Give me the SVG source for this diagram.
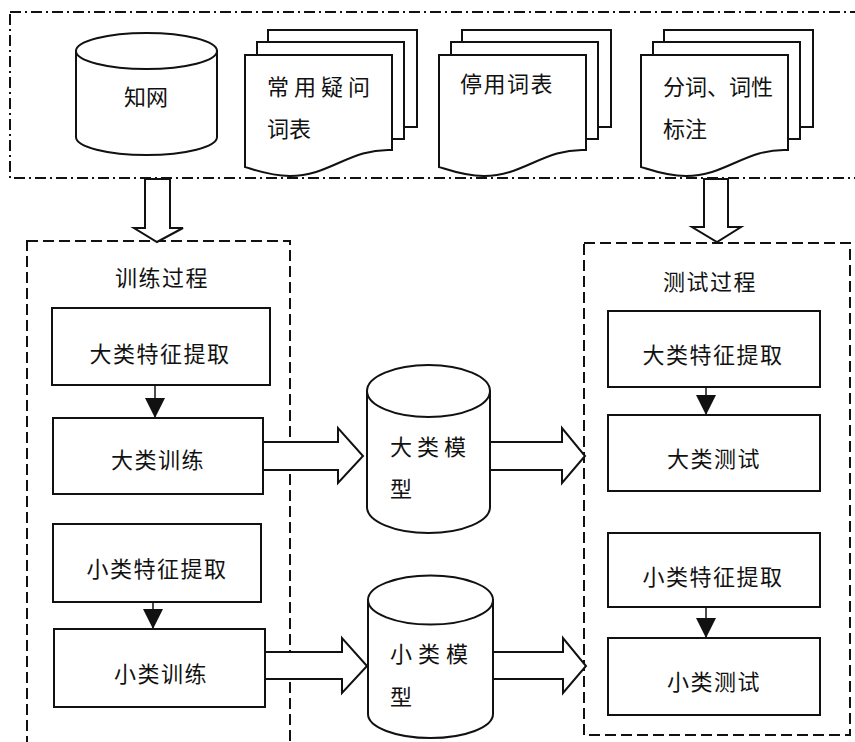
<svg xmlns="http://www.w3.org/2000/svg" xmlns:xlink="http://www.w3.org/1999/xlink" width="855" height="742" viewBox="0 0 855 742">
<style>
.t{font-family:"Noto Sans CJK SC","Noto Sans",sans-serif;font-size:22px;fill:#111;dominant-baseline:central}
.c{text-anchor:middle}
.box{fill:#fff;stroke:#111;stroke-width:2}
.shape{fill:#fff;stroke:#111;stroke-width:2}
.dash{fill:none;stroke:#111;stroke-width:2;stroke-dasharray:11 5}
.dashdot{fill:none;stroke:#111;stroke-width:2;stroke-dasharray:11 4 2 4}
.barrow{fill:#fff;stroke:#111;stroke-width:2;stroke-linejoin:miter}
.line{stroke:#111;stroke-width:1.5;fill:none}
</style>
<defs>
<marker id="tri" markerUnits="userSpaceOnUse" markerWidth="20" markerHeight="20" viewBox="0 0 20 20" refX="20" refY="10" orient="auto">
<path d="M0,0 L20,10 L0,20 Z" fill="#111"/>
</marker>
<g id="stack">
<rect class="shape" x="23" y="-25" width="149" height="97"/>
<rect class="shape" x="12" y="-13" width="147" height="97"/>
<path class="shape" d="M0,0 H147 V95 C105,93 85,121 45,121 C25,121 10,115 0,112 Z"/>
</g>
</defs>
<rect width="855" height="742" fill="#fff"/>

<g id="sources">
<rect class="dashdot" x="10" y="12" width="880" height="166"/>
</g>

<g id="zhiwang">
<path class="shape" d="M76,51 V137 A70.5,18 0 0 0 217,137 V51 Z"/>
<ellipse class="shape" cx="146.5" cy="51" rx="70.5" ry="18"/>
<text class="t c" x="146" y="95">知网</text>
</g>

<g id="doc-question">
<use xlink:href="#stack" href="#stack" x="245" y="55"/>
<text class="t" x="267" y="85" letter-spacing="5">常用疑问</text>
<text class="t" x="267" y="127">词表</text>
</g>

<g id="doc-stopwords">
<use xlink:href="#stack" href="#stack" x="439" y="55"/>
<text class="t" x="460" y="82" letter-spacing="1.5">停用词表</text>
</g>

<g id="doc-segment">
<use xlink:href="#stack" href="#stack" x="641" y="55"/>
<text class="t" x="663" y="85">分词、词性</text>
<text class="t" x="663" y="127">标注</text>
</g>

<g id="training">
<rect class="dash" x="27" y="241" width="263" height="510"/>
<text class="t c" x="162" y="276" letter-spacing="1.5">训练过程</text>
</g>

<g id="testing">
<rect class="dash" x="584" y="243" width="266" height="492"/>
<text class="t c" x="710" y="280" letter-spacing="1.5">测试过程</text>
</g>

<g id="train-big-feat">
<rect class="box" x="52" y="308" width="218" height="77"/>
<text class="t c" x="160" y="352" letter-spacing="1.5">大类特征提取</text>
</g>
<g id="train-big">
<rect class="box" x="53" y="418" width="210" height="76"/>
<text class="t c" x="158" y="458" letter-spacing="1.5">大类训练</text>
</g>
<g id="train-small-feat">
<rect class="box" x="53" y="524" width="208" height="78"/>
<text class="t c" x="157" y="567" letter-spacing="1.5">小类特征提取</text>
</g>
<g id="train-small">
<rect class="box" x="54" y="629" width="211" height="78"/>
<text class="t c" x="161" y="672" letter-spacing="1.5">小类训练</text>
</g>

<g id="test-big-feat">
<rect class="box" x="608" y="311" width="212" height="76"/>
<text class="t c" x="713" y="353" letter-spacing="1.5">大类特征提取</text>
</g>
<g id="test-big">
<rect class="box" x="608" y="415" width="212" height="76"/>
<text class="t c" x="714" y="457" letter-spacing="1.5">大类测试</text>
</g>
<g id="test-small-feat">
<rect class="box" x="608" y="533" width="212" height="74"/>
<text class="t c" x="713" y="575" letter-spacing="1.5">小类特征提取</text>
</g>
<g id="test-small">
<rect class="box" x="608" y="638" width="212" height="77"/>
<text class="t c" x="714" y="680" letter-spacing="1.5">小类测试</text>
</g>

<g id="big-model">
<path class="shape" d="M367,391 V507 A61.5,26 0 0 0 490,507 V391 Z"/>
<ellipse class="shape" cx="428.5" cy="391" rx="61.5" ry="26"/>
<text class="t" x="390" y="445" letter-spacing="5">大类模</text>
<text class="t" x="390" y="487">型</text>
</g>

<g id="small-model">
<path class="shape" d="M368,600 V714 A62.5,24 0 0 0 493,714 V600 Z"/>
<ellipse class="shape" cx="430.5" cy="600" rx="62.5" ry="24.5"/>
<text class="t" x="390" y="652" letter-spacing="6">小类模</text>
<text class="t" x="390" y="695">型</text>
</g>

<g id="connectors">
<path class="barrow" d="M145,179 V228 H134 L157,242 L183,228 H170 V179 Z"/>
<path class="barrow" d="M704,179 V227 H692 L717,242 L741,227 H728 V179 Z"/>
<path class="barrow" d="M263,442 H338 V428 L363,456 L338,483 V470 H263 Z"/>
<path class="barrow" d="M490,442 H562 V428 L585,456 L562,483 V470 H490 Z"/>
<path class="barrow" d="M265,652 H342 V638 L367,666 L342,693 V679 H265 Z"/>
<path class="barrow" d="M493,652 H563 V638 L586,666 L563,693 V679 H493 Z"/>
<line class="line" x1="155" y1="385" x2="155" y2="418" marker-end="url(#tri)"/>
<line class="line" x1="153" y1="602" x2="153" y2="629" marker-end="url(#tri)"/>
<line class="line" x1="706" y1="387" x2="706" y2="415" marker-end="url(#tri)"/>
<line class="line" x1="706" y1="607" x2="706" y2="638" marker-end="url(#tri)"/>
</g>
</svg>
